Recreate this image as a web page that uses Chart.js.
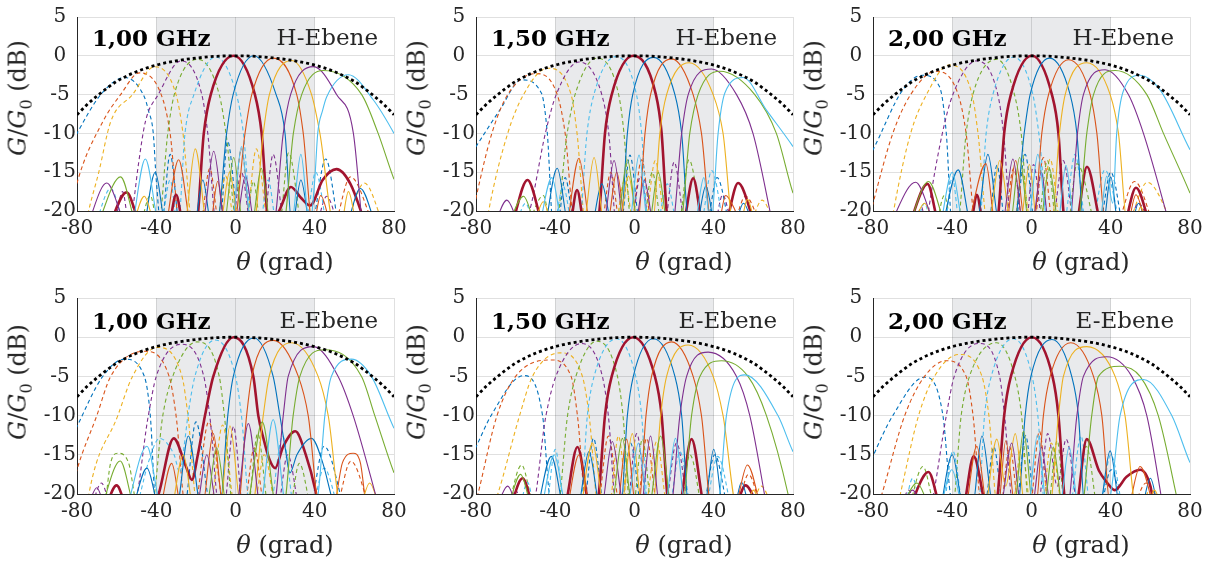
<!DOCTYPE html>
<html lang="de">
<head>
<meta charset="UTF-8">
<title>Strahlungsdiagramme H-/E-Ebene</title>
<script src="https://cdn.jsdelivr.net/npm/chart.js"></script>
<style>
  body { margin:0; background:#fff; width:1215px; height:563px; position:relative; overflow:hidden;
         font-family:'DejaVu Serif', serif; color:#262626; }
  .panel { position:absolute; }
  .lbl { position:absolute; white-space:nowrap; line-height:1; }
  .tag { font-size:23px; font-weight:bold; color:#000; transform:translateY(-50%); }
  .plane { font-size:23px; transform:translate(-100%,-50%); }
  .xt { font-size:24px; transform:translate(-50%,-50%); }
  .yt { font-size:24px; transform:translate(-50%,-50%) rotate(-90deg); }
  .yt sub { font-size:16px; }
</style>
</head>
<body>
<script>
// envelope (dotted black)
const envX = [-80,-75,-70,-65,-60,-50,-40,-30,-20,-10,0,10,20,30,40,50,60,65,70,75,80];
const envY = [-7.6,-6.3,-5.2,-4.2,-3.3,-2.05,-1.2,-0.65,-0.3,-0.07,0,-0.07,-0.3,-0.65,-1.2,-2.05,-3.3,-4.2,-5.2,-6.3,-7.6];

const xTicks = [-80,-40,0,40,80];
const yTicks = [5,0,-5,-10,-15,-20];
const shadeFrom = -40, shadeTo = 40;

// beams per panel, x/y pairs (grad, dB):
// dashed blue, orange, yellow, purple, green, lightblue | red | solid blue, orange, yellow, purple, green, lightblue
const h100 = [
  [-82,-11,-80,-10,-68,-5,-56,-2.8,-46,-5.3,-44,-7,-41.5,-10,-40,-16,-37.5,-22,-33,-12.7,-28,-22,-8,-22,-4,-11,2,-22,38,-22,45.5,-13.3,52,-22],
  [-83,-20,-80,-16.4,-67,-8.5,-58,-5,-48.5,-2.2,-37.5,-5,-33,-10,-28,-22,-18,-22,-13,-14.5,-8,-22,-2,-22,3,-12,8,-22,49,-22,58,-15.6,70,-22],
  [-77,-24,-75,-21,-69,-15,-63,-8.5,-52,-5,-41,-1.4,-30,-5,-26.5,-10,-21.5,-22,-10,-22,-5,-15.5,0,-22,5,-22,10.5,-12,17,-22,54,-22,65,-16.4,75,-22],
  [-61,-22,-57,-17.5,-53.5,-22,-52,-20,-49,-14,-45.5,-8.5,-39,-5,-27.5,-0.65,-17,-5,-14,-10,-9.5,-22,-2,-22,3,-15,8,-22,14,-22,19,-12.7,25,-22,40,-22,46,-18.1,52,-22],
  [-48,-22,-43,-18,-39,-22,-34.2,-10,-30.9,-5,-19,-0.45,-8.2,-5,-4.8,-10,1,-22,5,-22,9,-16.2,13,-22,22,-22,26.8,-12.5,33,-22],
  [-71,-22,-63,-17.1,-55,-22,-38,-22,-33,-16,-29,-22,-25.5,-10,-21,-5,-10,-0.15,0.5,-5,4,-10,8.5,-22,12,-22,16.5,-16,21,-22,35,-22,40.5,-15,46,-22],
  [-64,-22,-55,-17.6,-47,-22,-34,-22,-30,-17.9,-26,-22,-20,-22,-16,-10,-12.5,-5,-1,0,9.8,-5,13.2,-10,17,-22,22,-20,28,-16.9,33,-18.3,37.7,-19.3,44,-16,51,-14.6,58,-16.5,66,-22],
  [-46,-22,-40.5,-15,-35,-22,-21,-22,-16.5,-16,-12,-22,-9.5,-22,-4.5,-10,-1.2,-5,9.3,0,20.5,-5,25,-10,28.5,-22,33,-16,38,-22,55,-22,63,-17.1,71,-22],
  [-35,-22,-28.7,-13.4,-22,-22,-13,-22,-9,-16.2,-5,-22,-1,-22,4.8,-10,8.2,-5,19.1,-0.3,30.9,-5,34.2,-10,39,-22,43,-18,48,-22],
  [-52,-22,-46,-18.1,-40,-22,-26,-22,-20.3,-12,-14,-22,-8,-22,-3,-15,2,-22,9,-22,14,-10,17.1,-5,28.3,-0.6,38.4,-5,42.6,-10,50,-22,53,-22,57,-17.5,61,-22],
  [-75,-22,-65,-16.4,-54,-22,-17,-22,-11,-12.3,-5,-22,0,-22,5,-15.5,10,-22,19,-22,24.1,-10,27.8,-5,39.3,-1.4,51,-5,59.5,-10,64,-22],
  [-70,-22,-58,-15.6,-49,-22,-6,-22,-0.9,-13.1,4,-22,8,-22,13,-14.5,18,-22,24,-22,29.2,-10,33.4,-5,44.3,-1.9,63.7,-5,72,-10,80,-15.9,82,-17],
  [-52,-22,-45.5,-13.3,-38,-22,-2,-22,3,-11.7,8,-22,28,-22,33,-12.7,37.5,-22,40,-16,41.5,-10,44,-7,46,-5.3,57,-2.45,69.6,-5.7,80,-10,82,-11]
];

const h150 = [
  [-82,-12.5,-80,-11.7,-68,-7,-57,-3.1,-47,-4.8,-44,-10,-41,-22,-39,-22,-35,-15.7,-30,-22,-7,-22,-2.3,-12.8,3,-22,36,-22,41.7,-15.7,48,-22],
  [-83,-22,-80,-18.3,-72,-10,-64,-5,-50,-2.3,-39,-5,-35,-10,-30,-22,-17,-22,-12,-15,-7,-22,-2,-22,3.6,-13.4,9,-22,49,-22,56,-18.1,64,-22],
  [-76,-24,-73.6,-20,-64,-10,-56,-5,-44,-1.6,-32,-5,-29,-10,-24.5,-22,-10,-22,-5,-16,0,-22,5,-22,10.5,-13.5,16,-22,57,-22,64.4,-18.6,71,-22],
  [-57,-22,-53,-20,-45,-10,-39.5,-5,-28,-0.8,-16.5,-5,-13,-10,-9,-22,-2,-22,3,-15.5,8,-22,15,-22,20,-13.7,26,-22,40,-22,44.5,-17.9,49,-22],
  [-54,-22,-46,-18,-42,-22,-40,-22,-34,-10,-30,-5,-19,-0.3,-8,-5,-5.3,-10,-1.5,-22,4,-22,9,-15,14,-22,22,-22,27.5,-13.4,34,-22],
  [-60,-22,-55,-19,-50,-22,-41,-22,-36,-16.8,-31,-22,-28,-22,-24,-10,-20.5,-5,-9.5,-0.1,1,-5,3.6,-10,7,-22,11,-22,16.5,-16.5,22,-22,33,-22,39,-14.8,45,-22],
  [-62,-22,-54,-16,-45,-22,-33,-22,-29,-17.3,-25,-22,-19,-22,-17.7,-20,-14.9,-10,-11.5,-5,-0.6,0,10.8,-5,13.7,-10,16.2,-20,17.5,-22,24,-22,29.6,-15.8,35,-22,45,-22,52.3,-16.4,61,-22],
  [-45,-22,-39,-14.5,-33,-22,-22,-22,-16.5,-16.5,-11,-22,-7,-22,-3.6,-10,-0.9,-5,9.5,-0.2,20.4,-5,23.8,-10,27.5,-22,31,-22,36,-16.8,41,-22,50,-22,55,-19,60,-22],
  [-34,-22,-28,-13.2,-22,-22,-14,-22,-9,-15,-4,-22,1.5,-22,5.3,-10,8.1,-5,18.7,-0.4,29.6,-5,33.8,-10,39,-22,42,-22,46,-18,50,-19.5,54,-22],
  [-51,-22,-46,-18.8,-41,-22,-26,-22,-20.4,-13.1,-15,-22,-8,-22,-3,-15.5,2,-22,9,-22,12.8,-10,16.2,-5,27.6,-0.9,39.7,-5,44.7,-10,50,-22,53,-22,57,-18.5,61,-22],
  [-71,-22,-64.4,-18.6,-57,-22,-16,-22,-10.3,-13.5,-5,-22,0,-22,5,-16,10,-22,19,-22,23.8,-10,27.1,-5,38.9,-1.7,51.5,-5,59.8,-10,70,-22],
  [-64,-22,-56,-18.1,-49,-22,-9,-22,-3.6,-13.4,2,-22,7,-22,12,-15,17,-22,23,-22,27.9,-10,32.1,-5,43,-2,60.7,-5,71.6,-10,80,-17.7,82,-19],
  [-48,-22,-41.7,-15.7,-36,-22,-3,-22,2.3,-12.8,7,-22,30,-22,35,-15.7,38.5,-22,42.2,-10,45.6,-4.8,54.8,-2.8,66.6,-7,80,-11.7,82,-12.5]
];

const h200 = [
  [-82,-13,-80,-12.1,-65,-4.4,-55,-2.5,-46.4,-4,-43,-10,-40,-22,-22,-22,-17.4,-14.1,-13,-22,-8.5,-22,-3.2,-12.7,2,-22,34,-22,40,-15,46,-22],
  [-83,-22,-80,-19,-70,-10,-61,-5,-48.5,-2,-37,-5,-33,-10,-28,-22,-14,-22,-9,-14.5,-4,-22,1,-22,6,-13.1,11,-22,42,-22,52,-16.2,62,-22],
  [-72,-24,-69.6,-20,-61,-10,-53,-5,-41.8,-1.2,-30,-5,-27,-10,-22,-22,-9,-22,-5,-15,0,-22,4,-22,9.4,-13.3,15,-22,47,-22,58.5,-16.3,72,-22],
  [-59,-22,-55.5,-19.5,-53,-22,-52,-20,-45,-10,-39.7,-5,-27.6,-0.65,-17,-5,-14.1,-10,-10,-22,-3,-22,1,-14,6,-22,10,-22,16,-13.5,22,-22,48,-22,54,-19,60,-22],
  [-48,-22,-44,-18,-40,-22,-37.5,-22,-33,-10,-29.6,-5,-17.5,-0.45,-8.6,-5,-5.2,-10,-1,-22,3,-22,8,-13.5,13,-22,18,-22,23,-13.9,32,-22],
  [-58,-22,-54,-19,-50,-22,-44,-22,-40,-15.6,-36,-22,-26.5,-22,-22.9,-10,-19.5,-5,-9,-0.15,0.7,-5,3.7,-10,9,-22,16,-22,22,-12.7,28,-22,30,-22,37,-14.7,45,-22],
  [-62,-22,-52.5,-16.5,-46,-22,-31,-22,-27.6,-17.9,-24,-22,-18,-22,-16.6,-20,-13.8,-10,-10.4,-5,0.2,0,10.3,-5,13.6,-10,16.1,-20,17.5,-22,22,-22,28,-14.3,36,-22,46,-22,52.7,-17,60,-22],
  [-45,-22,-37,-14.7,-30,-22,-28,-22,-22,-12.7,-16,-22,-9,-22,-3.7,-10,-0.7,-5,9.1,-0.3,19.5,-5,22.9,-10,26.5,-22,36,-22,40,-15.6,44,-22,50,-22,54,-19,58,-22],
  [-32,-22,-23,-13.9,-18,-22,-13,-22,-8,-13.5,-3,-22,1,-22,5.2,-10,8.6,-5,18.7,-0.5,29.6,-5,33,-10,37.5,-22,48,-22,52.7,-17.9,58,-22],
  [-60,-22,-54,-19,-48,-22,-22,-22,-16,-13.5,-10,-22,-6,-22,-1,-14,3,-22,10,-22,14.1,-10,17,-5,27.9,-0.9,39.7,-5,43.9,-10,48.5,-22,52,-22,55,-19.5,59,-22],
  [-72,-22,-58.5,-16.3,-47,-22,-15,-22,-9.4,-13.3,-4,-22,0,-22,5,-15,9,-22,19,-22,23.2,-10,26.2,-5,37.1,-1.8,48.9,-5,56.5,-10,70,-22],
  [-62,-22,-52,-16.2,-42,-22,-11,-22,-6,-13.1,-1,-22,4,-22,9,-14.5,14,-22,23,-22,27.9,-10,31.3,-5,42.2,-1.9,58.2,-5,66.6,-10,80,-17.7,82,-19],
  [-46,-22,-40,-15,-34,-22,-2,-22,3.2,-12.7,8.5,-22,13,-22,17.4,-14.1,22,-22,34,-22,38,-15.5,41,-19,43,-10,46.4,-4.5,54.8,-2.5,64.9,-4.4,80,-12.1,82,-13]
];

const e100 = [
  [-82,-12.5,-80,-11.4,-67,-5,-56,-2.8,-46,-5,-43,-10,-40,-22,-26,-22,-20,-10.8,-12,-22,37,-22,44.7,-13.9,55,-22],
  [-83,-20,-80,-16.9,-70,-10,-63,-5,-46,-1.8,-33.5,-5,-30,-10,-25,-22,-21,-22,-13.5,-10.8,-5,-22,4,-22,9.5,-14.1,15,-22,50,-22,58.2,-15.8,68,-22],
  [-76,-24,-74,-20,-59.4,-10,-52,-5,-39.7,-1.3,-27,-5,-24,-10,-19,-22,-13,-22,-6.5,-11.2,0,-22,9,-22,14.5,-15,20,-22],
  [-73,-22,-67.7,-18.6,-62,-22,-52,-22,-44,-10,-40,-5,-27.1,-0.9,-16,-5,-13,-10,-8,-22,-6,-22,-1,-11.4,4,-22,21,-22,26.3,-15,32,-22],
  [-66,-22,-63,-16,-59.4,-14.8,-54,-16,-49,-22,-42.6,-22,-36.7,-10,-31.7,-5,-19.6,-0.6,-8.2,-5,-5.6,-10,-1,-22,6,-22,11.2,-12.3,17,-22,27,-22,32.2,-16.1,38,-22],
  [-50,-22,-47.6,-19.5,-44,-16,-38.4,-12.9,-31,-15,-28,-17.3,-26,-14,-24,-10,-20.5,-5,-10.3,-0.35,0,-5,3,-10,7.5,-22,17,-22,23.8,-12.6,30,-22,38,-22,44.7,-16.7,52,-22],
  [-66,-22,-60,-18.9,-54,-22,-42,-22,-38.8,-20,-31.2,-12.9,-25,-16.5,-22,-18.2,-19,-15,-15.4,-10,-11.2,-5,-1,0,9,-5,11.5,-10,14.2,-13,17,-15.5,20,-16.7,24,-14,30.2,-12,35.5,-15,40.3,-19.5,42,-22],
  [-52,-22,-44.7,-16.7,-38,-22,-30,-22,-23.8,-12.6,-17,-22,-8,-22,-3.9,-10,-1.1,-5,9.3,-0.1,19,-5,22.4,-10,25,-14,27.5,-17.3,31,-15,38.4,-12.9,44,-16,47.6,-19.5,50,-22],
  [-38,-22,-32.2,-16.1,-27,-22,-17,-22,-11.2,-12.3,-6,-22,1,-22,5.6,-10,8.2,-5,19.1,-0.4,31.7,-5,36.7,-10,42.6,-22,49,-22,54,-16,59.4,-14.8,63,-16,66,-22],
  [-32,-22,-26.3,-15,-21,-22,-8,-22,-2.8,-11.3,3,-22,8,-22,14,-10,17,-5,28.3,-0.7,41.7,-5,46.8,-10,53.5,-22,62,-22,67.7,-18.6,73,-22],
  [-75,-22,-70,-19.2,-65,-22,-20,-22,-14.5,-15,-9,-22,0,-22,6.5,-11,13,-22,19,-22,24.1,-10,26.6,-5,39.2,-1.2,51.8,-5,59.4,-10,72.8,-22],
  [-68,-22,-58.2,-15.8,-50,-22,-15,-22,-9.5,-14.1,-4,-22,5,-22,13.5,-10.8,21,-22,24,-22,29.1,-10,32.5,-5,45.1,-1.6,63.6,-5,70.3,-10,80,-17.3,82,-18.5],
  [-55,-22,-44.7,-13.9,-37,-22,12,-22,19,-10.5,26,-22,38,-22,41.7,-20,45.1,-10,48.4,-5,58.5,-2.8,68.6,-5,80,-11.6,82,-12.5]
];

const e150 = [
  [-82,-15,-80,-14,-72.4,-10,-56,-4.9,-46.4,-10,-43,-20,-40,-22,-26,-22,-20.7,-12.9,-15,-22,-7,-22,-2,-13.5,4,-22,34,-22,40.5,-15,47,-22],
  [-82,-23,-79,-20,-69.4,-10,-60,-5,-42,-2.9,-32,-5,-28.8,-10,-24,-22,-19,-22,-13.2,-12.6,-7,-22,1,-22,6.1,-12.9,12,-22,51,-22,57.5,-17.5,64,-22],
  [-72,-22,-69,-20,-58,-10,-51.5,-5,-37.5,-2,-26.3,-5,-22.9,-10,-18,-22,-13,-22,-8.1,-12.6,-3,-22,5,-22,11.2,-13.3,17,-22,58,-22,64,-19,70,-22],
  [-64,-22,-60,-19.5,-56,-22,-52,-22,-44.7,-10,-39.7,-5,-26.6,-0.8,-16.2,-5,-13.2,-10,-9,-22,-4,-22,1.1,-12.3,7,-22,15,-22,21.2,-13.5,27,-22],
  [-64,-22,-57,-16.3,-50,-22,-39,-22,-33.8,-10,-29.6,-5,-19,-0.5,-8.6,-5,-5.8,-10,-2,-22,-1,-22,4,-13,9,-22,22,-22,28,-15,34,-22],
  [-58,-22,-54,-18.5,-50,-22,-45,-22,-40,-14.3,-35,-22,-27.5,-22,-23.8,-10,-20.4,-5,-9,-0.2,0.6,-5,3.6,-10,7,-22,17,-22,23,-14.6,29,-22,35,-22,42,-15.2,49,-22],
  [-63,-22,-56.5,-18,-50,-22,-36,-22,-28.8,-14,-22,-22,-19,-22,-18,-20,-14.9,-10,-11.5,-5,-0.6,0,10.3,-5,13.7,-10,16.5,-20,17.5,-22,22,-22,28.8,-13,36,-22,50,-22,56,-18.9,63,-22],
  [-49,-22,-42,-15.2,-35,-22,-29,-22,-23,-14.6,-17,-22,-7,-22,-3.6,-10,-0.6,-5,9.5,-0.2,20.4,-5,23.8,-10,27.5,-22,35,-22,40,-14.3,45,-22,50,-22,54,-18.5,58,-22],
  [-34,-22,-28,-15,-22,-22,-9,-22,-4,-13,1,-22,2,-22,5.8,-10,8.6,-5,18.7,-0.6,29.6,-5,33.8,-10,39,-22,50,-22,57,-16.3,64,-22],
  [-27,-22,-21.2,-13.5,-15,-22,-7,-22,-1.1,-12.3,4,-22,9,-22,13.2,-10,16.2,-5,27.1,-1,39.7,-5,44.7,-10,52,-22,56,-22,60,-19.5,64,-22],
  [-70,-22,-64,-19,-58,-22,-17,-22,-11.2,-13.3,-5,-22,3,-22,8.1,-12.6,13,-22,18,-22,22.9,-10,26.3,-5,37.2,-1.9,51.5,-5,58.2,-10,67,-22],
  [-64,-22,-57.5,-17.5,-51,-22,-12,-22,-6.1,-12.9,-1,-22,7,-22,13.2,-12.6,19,-22,24,-22,28.8,-10,33,-5,43.9,-3,57.3,-5,66.6,-10,77.5,-20,79,-22],
  [-47,-22,-40.5,-15,-34,-22,-4,-22,2,-13.5,7,-22,15,-22,20.7,-12.9,26,-22,40,-22,43,-20,46.4,-10,55.7,-4.8,72.4,-10,80,-14.6,82,-15.5]
];

const e200 = [
  [-82,-16.5,-80,-15.2,-70,-10,-54,-5.1,-44.7,-10,-41,-20,-39,-22,-24,-22,-19,-14,-14,-22,-8,-22,-3,-12.5,2,-22,34,-22,40.2,-16.9,46,-22],
  [-78,-22,-75.5,-20,-64,-10,-54,-5,-43,-3,-33,-5,-29.5,-10,-25,-22,-16,-22,-11,-14,-6,-22,-1,-22,4,-12,9,-22,50,-22,57.8,-18.6,66,-22],
  [-68,-22,-66.2,-20,-57,-10,-49,-5,-36.5,-2.2,-25,-5,-21.5,-10,-17,-22,-10,-22,-5,-14,0,-22,5,-22,10,-13.5,16,-22,54,-22,60,-19.5,66,-22],
  [-66,-22,-62,-19.5,-58,-22,-51,-22,-49.4,-20,-43,-10,-39,-5,-26.7,-0.8,-16.1,-5,-13.6,-10,-9,-22,3,-22,8.2,-12.3,13,-19,17.5,-13,23,-22],
  [-62,-22,-54.8,-16.5,-48,-22,-40,-22,-35.5,-10,-31.3,-5,-17.5,-0.7,-8.4,-5,-5,-10,-1,-22,8,-22,13,-13.2,17,-22,22,-22,27.6,-13.9,33,-22],
  [-64,-22,-60,-18,-55,-22,-45,-22,-39.7,-14.5,-34,-22,-27,-22,-23.7,-10,-20.3,-5,-9.1,-0.2,0.3,-5,3.2,-10,7,-22,19,-22,25,-12.6,30,-22,34,-22,40,-15,46,-22],
  [-62,-22,-52,-17.2,-45,-22,-35,-22,-29.2,-15.2,-22,-22,-18,-22,-17,-20,-13.8,-10,-10.4,-5,0.2,0,10.6,-5,13.6,-10,16.5,-20,17.5,-22,22,-22,27.9,-13,34,-17,38,-18.5,42,-19.5,48,-17.8,54.8,-16.9,60,-19,62,-22],
  [-46,-22,-40,-15,-34,-22,-30,-22,-25,-12.6,-19,-22,-7,-22,-3.2,-10,-0.3,-5,10.3,-0.3,20.3,-5,23.7,-10,27,-22,34,-22,39.7,-14.5,45,-22,55,-22,60,-18,64,-22],
  [-33,-22,-27.6,-13.9,-22,-22,-17,-22,-13,-13.2,-8,-22,2,-22,6,-10,9.4,-5,19.8,-0.7,31.3,-5,35.5,-10,40,-22,48,-22,54.8,-16.5,62,-22],
  [-23,-22,-17.5,-13,-13,-19,-8.2,-12.3,-3,-22,9,-22,13.6,-10,16.1,-5,27.9,-1.2,42.2,-5,47.2,-10,53,-22,58,-22,62,-19.5,66,-22],
  [-66,-22,-60,-19.5,-54,-22,-16,-22,-10,-13.5,-5,-22,0,-22,5,-14,10,-22,18,-22,22.9,-10,26.2,-5,38,-2.5,50.6,-5,58.2,-10,66.6,-22],
  [-66,-22,-57.8,-18.6,-50,-22,-9,-22,-4,-12,1,-22,6,-22,11,-14,16,-22,25,-22,30.4,-10,33.8,-5,44.7,-3.7,54.8,-5,64,-10,74.7,-22],
  [-46,-22,-40.2,-16.9,-34,-22,-2,-22,3,-12.5,8,-22,14,-22,19,-14,24,-22,36,-22,40,-20,44.7,-10,56.5,-5.4,70.8,-10,80,-16,82,-17]
];

const freqs = ['1,00 GHz', '1,50 GHz', '2,00 GHz'];
const planes = ['H-Ebene', 'E-Ebene'];

const colors = ['#0072BD','#D95319','#EDB120','#7E2F8E','#77AC30','#4DBEEE','#A2142F',
                '#0072BD','#D95319','#EDB120','#7E2F8E','#77AC30','#4DBEEE'];

// layout of the six axes (canvas box + chart area margins); canvases overlap a bit so the "80" labels fit
const panels = [
  { left:0,   top:0,   w:415, h:283, yW:77, padR:21, padT:17, xH:72, beams:h100, f:0, p:0 },
  { left:400, top:0,   w:415, h:283, yW:76, padR:22, padT:17, xH:72, beams:h150, f:1, p:0 },
  { left:800, top:0,   w:415, h:283, yW:73, padR:25, padT:17, xH:72, beams:h200, f:2, p:0 },
  { left:0,   top:283, w:415, h:280, yW:77, padR:21, padT:15, xH:69, beams:e100, f:0, p:1 },
  { left:400, top:283, w:415, h:280, yW:76, padR:22, padT:15, xH:69, beams:e150, f:1, p:1 },
  { left:800, top:283, w:415, h:280, yW:73, padR:25, padT:15, xH:69, beams:e200, f:2, p:1 }
];

function toPoints(flat) {
  const out = [];
  for (let i = 0; i < flat.length; i += 2) out.push({ x: flat[i], y: flat[i + 1] });
  return out;
}

const shadePlugin = {
  id: 'shade',
  beforeDraw(chart) {
    const { ctx, chartArea: a, scales: { x } } = chart;
    const x0 = x.getPixelForValue(shadeFrom), x1 = x.getPixelForValue(shadeTo);
    ctx.save();
    ctx.fillStyle = '#e9eaec';
    ctx.fillRect(x0, a.top, x1 - x0, a.bottom - a.top);
    ctx.restore();
  }
};

const tickFont = { family: 'DejaVu Serif', size: 20 };

function addLabel(cls, html, x, y) {
  const d = document.createElement('div');
  d.className = 'lbl ' + cls;
  d.innerHTML = html;
  d.style.left = x + 'px';
  d.style.top = y + 'px';
  document.body.appendChild(d);
}

panels.forEach(p => {
  const wrap = document.createElement('div');
  wrap.className = 'panel';
  wrap.style.left = p.left + 'px';
  wrap.style.top = p.top + 'px';
  const cv = document.createElement('canvas');
  cv.width = p.w; cv.height = p.h;
  cv.style.width = p.w + 'px'; cv.style.height = p.h + 'px';
  wrap.appendChild(cv);
  document.body.appendChild(wrap);

  const beamSets = p.beams.map((b, i) => ({
    data: toPoints(b),
    borderColor: colors[i],
    borderWidth: i === 6 ? 2.6 : 1.1,
    borderDash: i < 6 ? [4, 3] : [],
    pointRadius: 0,
    cubicInterpolationMode: 'monotone',
    fill: false,
    clip: 0
  }));
  // first dataset is drawn on top
  const datasets = [{
    data: envX.map((x, i) => ({ x, y: envY[i] })),
    borderColor: '#000',
    borderWidth: 2.8,
    borderDash: [3, 3],
    pointRadius: 0,
    cubicInterpolationMode: 'monotone',
    fill: false,
    clip: 0
  }].concat(beamSets.reverse());

  new Chart(cv.getContext('2d'), {
    type: 'line',
    data: { datasets },
    options: {
      responsive: false,
      animation: false,
      events: [],
      layout: { padding: { top: p.padT, right: p.padR, left: 0, bottom: 0 } },
      plugins: { legend: { display: false }, tooltip: { enabled: false } },
      scales: {
        x: {
          type: 'linear', min: -80, max: 80,
          afterBuildTicks: s => { s.ticks = xTicks.map(v => ({ value: v })); },
          ticks: { color: '#262626', font: tickFont, padding: 6, maxRotation: 0 },
          grid: { color: 'rgba(0,0,0,0.12)', drawTicks: false },
          border: { color: '#262626', width: 1 },
          afterFit: s => { s.height = p.xH; s.paddingLeft = 0; s.paddingRight = 0; }
        },
        y: {
          type: 'linear', min: -20, max: 5,
          afterBuildTicks: s => { s.ticks = yTicks.map(v => ({ value: v })); },
          ticks: { color: '#262626', font: tickFont, padding: 1, crossAlign: 'center' },
          grid: { color: 'rgba(0,0,0,0.12)', drawTicks: false },
          border: { color: '#262626', width: 1 },
          afterFit: s => { s.width = p.yW; s.paddingTop = 0; s.paddingBottom = 0; }
        }
      }
    },
    plugins: [shadePlugin]
  });

  const cl = p.left + p.yW, cr = p.left + p.w - p.padR;
  const rowTop = p.top === 0;
  const tagY = rowTop ? 37 : 320;
  addLabel('tag', freqs[p.f], cl + 15, tagY);
  addLabel('plane', planes[p.p], cr - 16, tagY);
  addLabel('xt', '<i>θ</i> (grad)', cl + 208, rowTop ? 262 : 545);
  addLabel('yt', '<i>G</i>/<i>G</i><sub>0</sub> (dB)', cl - 57, rowTop ? 98 : 382);
});
</script>
</body>
</html>
